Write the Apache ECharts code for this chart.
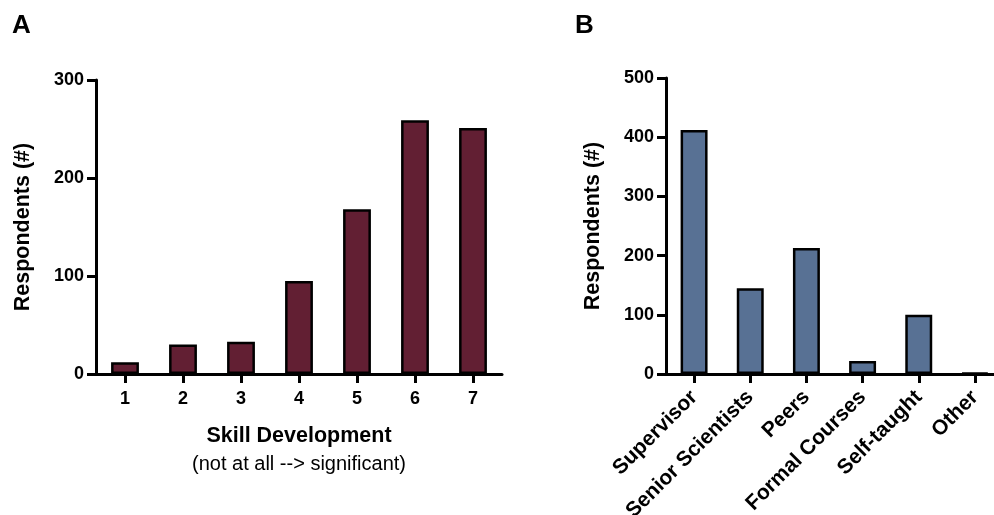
<!DOCTYPE html>
<html>
<head>
<meta charset="utf-8">
<script src="https://cdn.jsdelivr.net/npm/echarts@6/dist/echarts.min.js"></script>
<style>
html,body{margin:0;padding:0;background:#fff;}
#chart{width:994px;height:515px;}
</style>
</head>
<body>
<div id="chart"></div>
<script>
// Panel A
const skillCategories = ['1', '2', '3', '4', '5', '6', '7'];
const skillValues = [12, 30, 33, 95, 168, 259, 251];
const skillTicks = [0, 100, 200, 300];
// Panel B
const sourceCategories = ['Supervisor', 'Senior Scientists', 'Peers', 'Formal Courses', 'Self-taught', 'Other'];
const sourceValues = [412, 145, 213, 22, 100, 2];
const sourceTicks = [0, 100, 200, 300, 400, 500];

const FONT = 'Liberation Sans, Arial, sans-serif';
const axisLine = { show: true, lineStyle: { color: '#000', width: 3 } };
const axisTick = { show: true, inside: false, length: 9, lineStyle: { color: '#000', width: 3 } };

function yAxis(gridIndex, ticks, name) {
  return {
    type: 'value', gridIndex: gridIndex,
    min: ticks[0], max: ticks[ticks.length - 1], interval: ticks[1] - ticks[0],
    name: name, nameLocation: 'middle', nameGap: 62,
    nameTextStyle: { fontFamily: FONT, fontWeight: 'bold', fontSize: 21.5, color: '#000' },
    axisLine: axisLine, axisTick: axisTick,
    splitLine: { show: false },
    axisLabel: { fontFamily: FONT, fontWeight: 'bold', fontSize: 18, color: '#000', margin: 12 }
  };
}

const chart = echarts.init(document.getElementById('chart'), null, { renderer: 'canvas' });
chart.setOption({
  animation: false,
  backgroundColor: '#fff',
  title: [
    { text: 'A', left: 7, top: 8, textStyle: { fontFamily: FONT, fontWeight: 'bold', fontSize: 26, color: '#000' } },
    { text: 'B', left: 570, top: 8, textStyle: { fontFamily: FONT, fontWeight: 'bold', fontSize: 26, color: '#000' } }
  ],
  grid: [
    { left: 96, top: 80, width: 406, height: 294, containLabel: false, outerBoundsMode: 'none' },
    { left: 666, top: 78, width: 337, height: 296, containLabel: false, outerBoundsMode: 'none' }
  ],
  xAxis: [
    {
      type: 'category', gridIndex: 0, data: skillCategories,
      name: '{a|Skill Development}\n{b|(not at all --> significant)}',
      nameLocation: 'middle', nameGap: 48,
      nameTextStyle: {
        rich: {
          a: { fontFamily: FONT, fontWeight: 'bold', fontSize: 21.5, color: '#000', lineHeight: 28 },
          b: { fontFamily: FONT, fontWeight: 'normal', fontSize: 20, color: '#000', lineHeight: 28 }
        }
      },
      axisLine: axisLine, axisTick: Object.assign({ alignWithLabel: true }, axisTick),
      axisLabel: { fontFamily: FONT, fontWeight: 'bold', fontSize: 18, color: '#000', margin: 16 }
    },
    {
      type: 'category', gridIndex: 1, data: sourceCategories,
      axisLine: axisLine, axisTick: Object.assign({ alignWithLabel: true }, axisTick),
      axisLabel: { fontFamily: FONT, fontWeight: 'bold', fontSize: 21, color: '#000', rotate: 45, margin: 20, interval: 0 }
    }
  ],
  yAxis: [
    yAxis(0, skillTicks, 'Respondents (#)'),
    yAxis(1, sourceTicks, 'Respondents (#)')
  ],
  series: [
    {
      type: 'bar', xAxisIndex: 0, yAxisIndex: 0, data: skillValues, barWidth: '48%',
      itemStyle: { color: '#621F33', borderColor: '#000', borderWidth: 2.5 }
    },
    {
      type: 'bar', xAxisIndex: 1, yAxisIndex: 1, data: sourceValues, barWidth: '48%',
      itemStyle: { color: '#587194', borderColor: '#000', borderWidth: 2.5 }
    }
  ]
});
</script>
</body>
</html>
